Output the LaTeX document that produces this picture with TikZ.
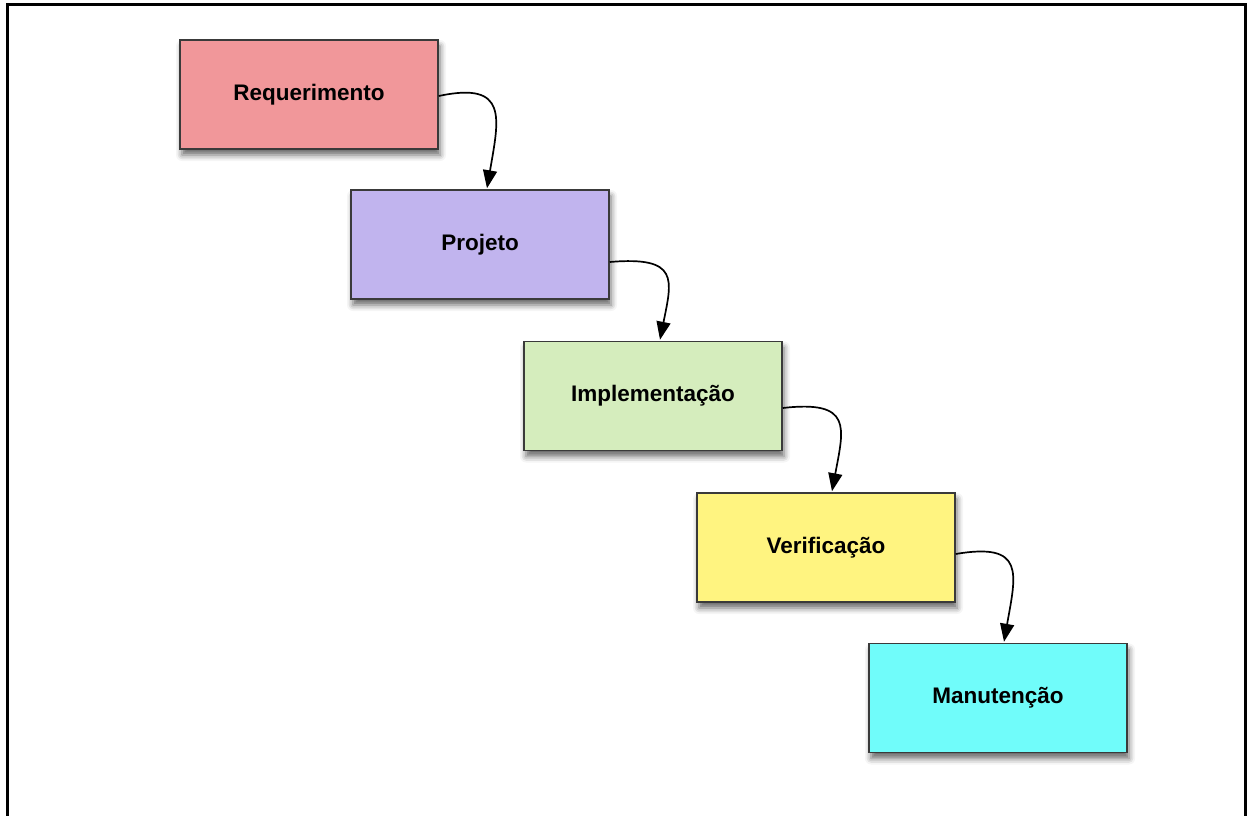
\documentclass[tikz,border=0pt]{standalone}
\usepackage{fontspec}
\setmainfont{Liberation Sans}
\usetikzlibrary{calc,arrows.meta,shadows.blur}
\definecolor{cReq}{HTML}{F1979A}
\definecolor{cProj}{HTML}{C1B4EE}
\definecolor{cImpl}{HTML}{D5EDBD}
\definecolor{cVer}{HTML}{FFF480}
\definecolor{cMan}{HTML}{70FCFA}
\definecolor{cEdge}{HTML}{3A3A3A}
\tikzset{
  phase/.style={draw=cEdge, line width=1.5pt, minimum width=258pt, minimum height=109pt,
    inner sep=0pt, font=\fontsize{22.5}{26}\selectfont\bfseries,
    blur shadow={shadow xshift=2pt, shadow yshift=-6pt, shadow blur radius=6pt, shadow opacity=60}},
  flow/.style={line width=1.7pt, -{Triangle[length=18pt,width=14pt]}},
}
\begin{document}
\begin{tikzpicture}[x=1pt,y=-1pt]
\useasboundingbox (0,0) rectangle (1248,816);
\draw[line width=3pt] (7,818) -- (7,5) -- (1245,5) -- (1245,818);
\node[phase, fill=cReq]  (R) at (309,94.5) {Requerimento};
\node[phase, fill=cProj] (P) at (480,244.5) {Projeto};
\node[phase, fill=cImpl] (I) at (653,396) {Implementação};
\node[phase, fill=cVer]  (V) at (826,547.5) {Verificação};
\node[phase, fill=cMan]  (M) at (998,698) {Manutenção};
\draw[flow] ($(R.east)+(0,1.5)$) .. controls +(70,-15) and +(12,-70) .. ($(P.north)+(7,-1)$);
\draw[flow] ($(P.east)+(0,17.5)$) .. controls +(70,-6) and +(12,-60) .. ($(I.north)+(7,-1)$);
\draw[flow] ($(I.east)+(0,12)$) .. controls +(70,-8) and +(12,-64) .. ($(V.north)+(6,-1)$);
\draw[flow] ($(V.east)+(0,6.5)$) .. controls +(70,-12) and +(12,-68) .. ($(M.north)+(6,-1)$);
\end{tikzpicture}
\end{document}
